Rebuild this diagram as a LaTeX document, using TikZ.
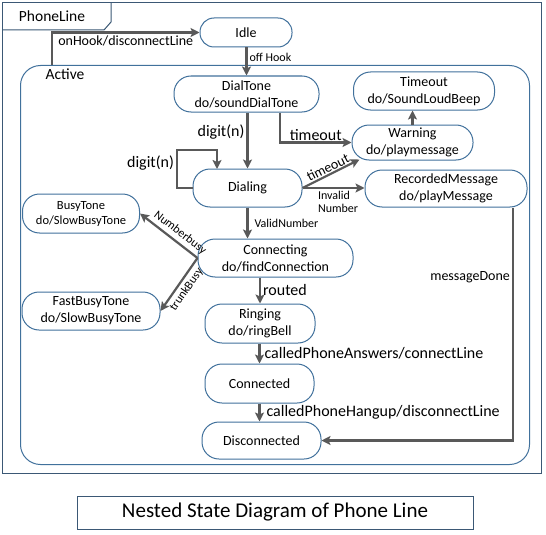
\documentclass[tikz,border=0pt]{standalone}
\usepackage{fontspec}
\setmainfont{Carlito}
\usetikzlibrary{arrows.meta,calc}
\definecolor{nodeblue}{HTML}{41719C}
\definecolor{framec}{HTML}{3B5875}
\definecolor{arrc}{HTML}{595959}
\begin{document}
\begin{tikzpicture}[x=1pt,y=-1pt,
 st/.style={draw=nodeblue, line width=1pt, rounded corners=17pt, inner sep=0pt, align=center, fill=white, font=\fontsize{14}{17}\selectfont},
 arr/.style={draw=arrc, line width=2.2pt, -{Stealth[length=9pt,width=9pt,inset=2pt]}},
 arrL/.style={draw=arrc, line width=2.2pt, {Stealth[length=9pt,width=9pt,inset=2pt]}-},
 lab/.style={font=\fontsize{16}{18}\selectfont, inner sep=2pt},
 slab/.style={font=\fontsize{12}{13}\selectfont, inner sep=2pt, align=left},
 mlab/.style={font=\fontsize{14}{16}\selectfont, inner sep=2pt}]
\useasboundingbox (0,0) rectangle (546,535);
\fill[white] (0,0) rectangle (546,535);
% outer frame
\draw[framec, line width=1pt] (2.5,3) rectangle (541,473);
\draw[framec, line width=1pt] (2.5,30) -- (104,30) -- (111,22) -- (111,3);
\node[font=\fontsize{15.5}{18}\selectfont, inner sep=0] (pl) at (52,16) {PhoneLine};
% active
\node[draw=nodeblue, line width=1pt, rounded corners=20pt, minimum width=509pt, minimum height=399pt, inner sep=0, anchor=north west] (active) at (20,65) {};
\node[font=\fontsize{15.5}{18}\selectfont, inner sep=0] (actlab) at (65,74) {Active};
% states
\node[st, rounded corners=14pt, minimum width=92pt, minimum height=29pt] (idle) at (246,32.5) {Idle};
\node[st, minimum width=145pt, minimum height=36pt] (dialtone) at (246.5,94) {DialTone\\do/soundDialTone};
\node[st, minimum width=141pt, minimum height=38pt] (timeout) at (424,91) {Timeout\\do/SoundLoudBeep};
\node[st, minimum width=121pt, minimum height=35pt] (warning) at (412.5,142.5) {Warning\\do/playmessage};
\node[st, minimum width=162pt, minimum height=37pt] (recorded) at (446,188.5) {RecordedMessage\\do/playMessage};
\node[st, minimum width=109pt, minimum height=38pt] (dialing) at (247.5,188) {Dialing};
\node[st, minimum width=117pt, minimum height=39pt, font=\fontsize{12.5}{15}\selectfont] (busytone) at (81,213.5) {BusyTone\\do/SlowBusyTone};
\node[st, minimum width=155pt, minimum height=38pt] (connecting) at (275.5,258) {Connecting\\do/findConnection};
\node[st, minimum width=138pt, minimum height=38pt] (fastbusy) at (91,311) {FastBusyTone\\do/SlowBusyTone};
\node[st, minimum width=110pt, minimum height=39pt] (ringing) at (260,323.5) {Ringing\\do/ringBell};
\node[st, minimum width=109pt, minimum height=39pt] (connected) at (259.5,383.5) {Connected};
\node[st, minimum width=119pt, minimum height=37pt] (disconnected) at (261.5,440.5) {Disconnected};
% caption
\node[draw=framec, line width=0.8pt, minimum width=396pt, minimum height=33pt, inner sep=0, font=\fontsize{21}{24}\selectfont] (cap) at (275,512.5) {Nested State Diagram of Phone Line};
% transitions
\coordinate (oh) at ($(active.north west)+(32,0)$);
\draw[arr] (oh) |- node[pos=0.75, below, mlab] {onHook/disconnectLine} (idle.west);
\draw[arr] (idle.south -| dialtone.north) -- node[pos=0.35, right, slab] {off Hook} (dialtone.north);
\draw[arr] (dialtone.south -| dialing.north) -- node[pos=0.35, left, lab] {digit(n)} (dialing.north);
\coordinate (lp1) at (177,150);
\coordinate (lp2) at (217,169);
\draw[arr] (dialing.west) -| node[pos=0.83, left, lab] {digit(n)} (lp1) -| (lp2);
\coordinate (t1) at ($(dialtone.south)+(33.5,0)$);
\draw[arr] (t1) |- node[pos=0.75, above, lab, inner sep=1pt] {timeout} (warning.west);
\draw[arr] (dialing.east) -- node[midway, sloped, above, mlab, inner sep=1pt] {timeout} ($(warning.south west)+(8,-1)$);
\draw[arr] (dialing.east) -- node[pos=0.2, anchor=north west, slab] {Invalid\\Number} (dialing.east -| recorded.west);
\draw[arr] (warning.north) -- (warning.north |- timeout.south);
\draw[arr] (dialing.south) -- node[midway, right, slab, xshift=4pt] {ValidNumber} (dialing.south |- connecting.north);
\draw[arrL] (busytone.east) -- node[pos=0.6, sloped, above, slab, inner sep=3pt] {Numberbusy} (connecting.west);
\draw[arrL] (fastbusy.east) -- node[midway, sloped, below, slab, inner sep=3pt] {trunkBusy} (connecting.west);
\draw[arr] (connecting.south -| ringing.north) -- node[midway, right, lab] {routed} (ringing.north);
\draw[arr] (ringing.south -| connected.north) -- node[midway, right, lab, xshift=2pt] {calledPhoneAnswers/connectLine} (connected.north);
\draw[arr] (connected.south) -- node[midway, right, lab, xshift=4pt] {calledPhoneHangup/disconnectLine} (connected.south |- disconnected.north);
\coordinate (rm) at ($(recorded.south)+(67,0)$);
\draw[arr] (rm) |- node[pos=0.15, left, mlab] {messageDone} (disconnected.east);
\end{tikzpicture}
\end{document}
